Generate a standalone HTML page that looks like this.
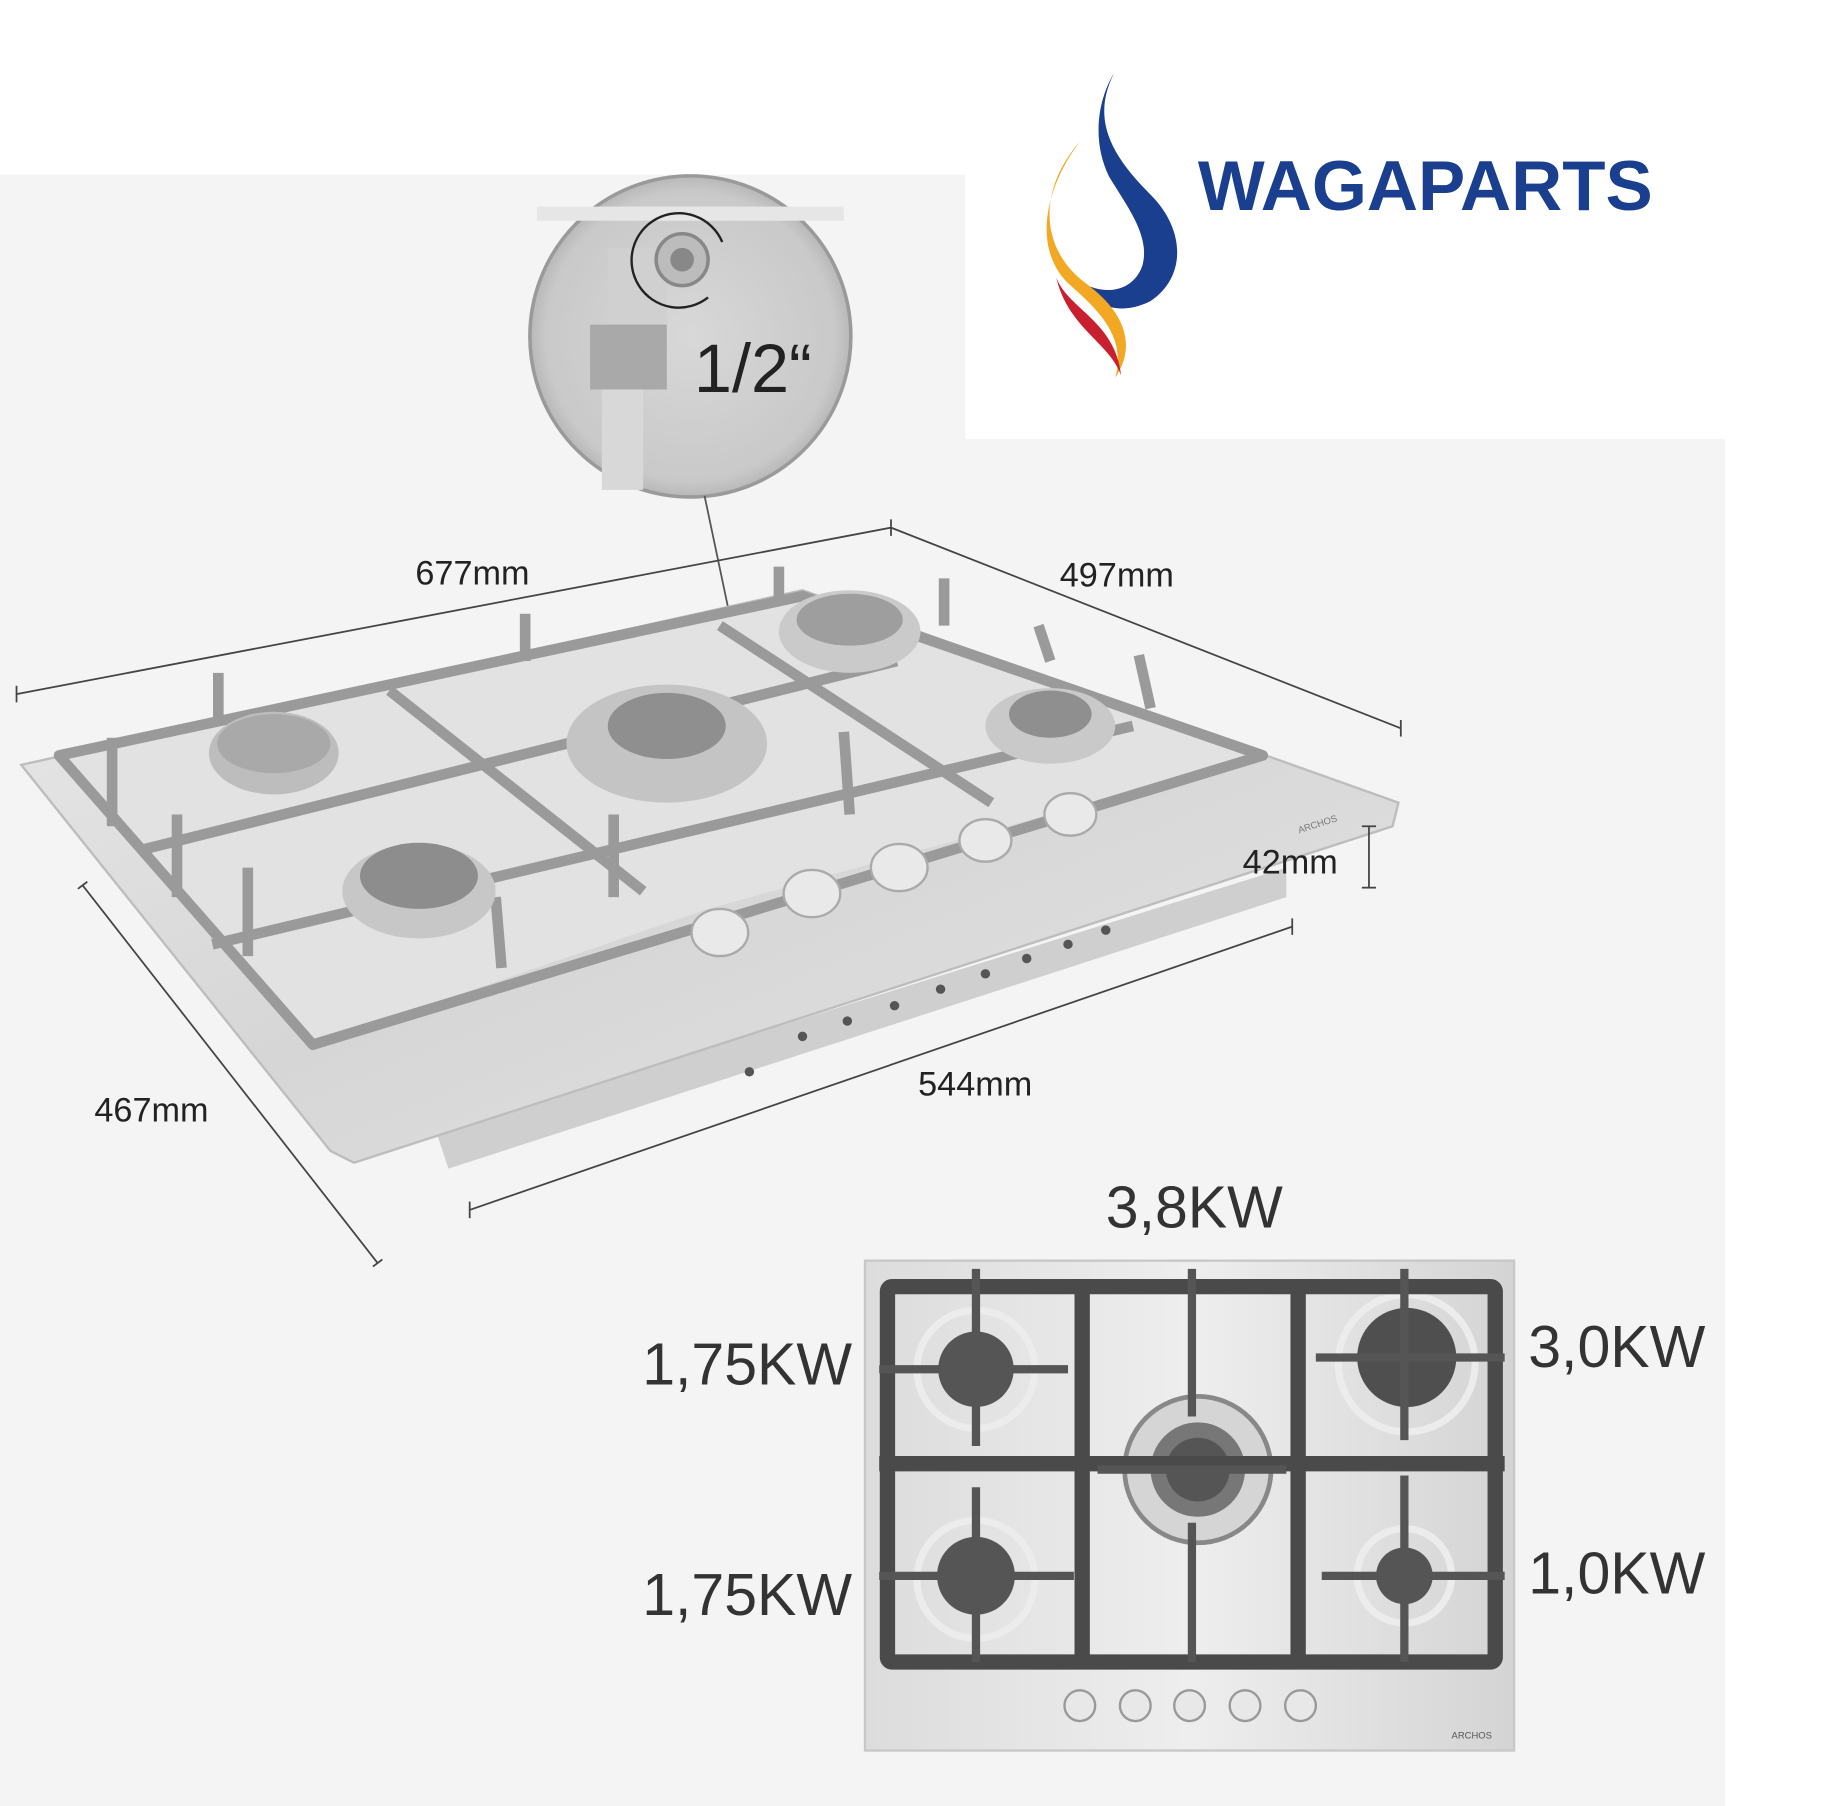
<!DOCTYPE html>
<html><head><meta charset="utf-8"><style>
html,body{margin:0;padding:0;background:#fff;width:1841px;height:1806px;overflow:hidden}
svg{display:block}
text{font-family:"Liberation Sans",sans-serif}
</style></head><body>
<svg width="1841" height="1806" viewBox="0 0 1560 1530" preserveAspectRatio="none" xmlns="http://www.w3.org/2000/svg">
<defs>
<linearGradient id="steel" x1="0" y1="0" x2="1" y2="1">
<stop offset="0" stop-color="#e9e9e9"/><stop offset="0.5" stop-color="#d6d6d6"/><stop offset="1" stop-color="#e4e4e4"/></linearGradient>
<linearGradient id="steel2" x1="0" y1="0" x2="1" y2="0">
<stop offset="0" stop-color="#dcdcdc"/><stop offset="0.5" stop-color="#eeeeee"/><stop offset="1" stop-color="#d4d4d4"/></linearGradient>
<radialGradient id="circ" cx="0.5" cy="0.5" r="0.5">
<stop offset="0" stop-color="#d8d8d8"/><stop offset="0.9" stop-color="#c9c9c9"/><stop offset="1" stop-color="#b8b8b8"/></radialGradient>
</defs>
<rect x="0" y="0" width="1560" height="1530" fill="#fff"/>
<path d="M0 148 H818 V372 H1462 V1530 H0 Z" fill="#f4f4f4"/>

<!-- logo -->
<path d="M944 62 C925 100 940 130 975 165 C1005 195 1005 235 975 255 C950 268 925 260 918 240 C935 250 960 248 968 225 C975 200 955 175 940 150 C925 120 930 85 944 62 Z" fill="#1b3f8f"/>
<path d="M915 120 C880 160 880 210 920 240 C950 262 965 290 945 320 C955 285 930 262 905 240 C875 210 885 160 915 120 Z" fill="#f3a824"/>
<path d="M895 235 C905 262 945 272 950 318 C940 290 905 278 895 235 Z" fill="#c8202e"/>
<text x="1015" y="178" font-size="60" font-weight="bold" fill="#1b3f8f">WAGAPARTS</text>

<!-- inset circle -->
<circle cx="585" cy="285" r="136" fill="url(#circ)" stroke="#9a9a9a" stroke-width="3"/>
<rect x="455" y="175" width="260" height="12" fill="#e6e6e6"/>
<rect x="515" y="210" width="50" height="90" fill="#d0d0d0"/>
<rect x="500" y="275" width="65" height="55" fill="#a9a9a9"/>
<rect x="510" y="330" width="35" height="85" fill="#d8d8d8"/>
<circle cx="578" cy="220" r="22" fill="#bcbcbc" stroke="#888" stroke-width="3"/>
<circle cx="578" cy="220" r="10" fill="#888"/>
<path d="M612 205 A40 40 0 1 0 600 252" fill="none" stroke="#222" stroke-width="2"/>
<line x1="597" y1="420" x2="617" y2="515" stroke="#555" stroke-width="1.5"/>

<!-- 3D hob -->
<path d="M370 960 L1090 735 L1090 760 L380 990 Z" fill="#cfcfcf"/>
<path d="M18 648 L680 500 L1185 680 L1180 700 L300 985 L280 975 Z" fill="url(#steel)" stroke="#bdbdbd" stroke-width="2"/>
<path d="M50 640 L680 505 L1070 640 L600 770 L265 885 Z" fill="#e2e2e2"/>
<g fill="none" stroke="#9a9a9a" stroke-width="9" stroke-linejoin="round">
<path d="M50 640 L680 505 L1070 640 L265 885 Z"/>
<path d="M330 585 L545 755"/><path d="M610 530 L840 680"/>
<path d="M120 720 L760 560"/><path d="M180 800 L960 615"/>
<path d="M185 570 L185 610"/><path d="M445 520 L445 560"/><path d="M660 480 L660 510"/><path d="M800 490 L800 530"/>
<path d="M95 625 L95 700"/><path d="M150 690 L150 760"/><path d="M210 735 L210 810"/>
<path d="M880 530 L890 560"/><path d="M965 555 L975 600"/><path d="M420 760 L425 820"/><path d="M520 690 L520 760"/><path d="M715 620 L720 690"/>
</g>
<g>
<ellipse cx="232" cy="638" rx="55" ry="35" fill="#bdbdbd"/><ellipse cx="232" cy="630" rx="48" ry="25" fill="#a9a9a9"/>
<ellipse cx="355" cy="755" rx="65" ry="40" fill="#c7c7c7"/><ellipse cx="355" cy="742" rx="50" ry="28" fill="#8d8d8d"/>
<ellipse cx="565" cy="630" rx="85" ry="50" fill="#c4c4c4"/><ellipse cx="565" cy="615" rx="50" ry="28" fill="#8f8f8f"/>
<ellipse cx="720" cy="535" rx="60" ry="35" fill="#cacaca"/><ellipse cx="720" cy="525" rx="45" ry="22" fill="#9e9e9e"/>
<ellipse cx="890" cy="615" rx="55" ry="32" fill="#c9c9c9"/><ellipse cx="890" cy="605" rx="35" ry="20" fill="#8f8f8f"/>
</g>
<g fill="#e9e9e9" stroke="#aaa" stroke-width="2">
<ellipse cx="610" cy="790" rx="24" ry="20"/><ellipse cx="688" cy="757" rx="24" ry="20"/><ellipse cx="762" cy="735" rx="24" ry="20"/><ellipse cx="835" cy="712" rx="22" ry="18"/><ellipse cx="907" cy="690" rx="22" ry="18"/>
</g>
<g fill="#555">
<circle cx="635" cy="908" r="4"/><circle cx="680" cy="878" r="4"/><circle cx="718" cy="865" r="4"/><circle cx="758" cy="852" r="4"/><circle cx="797" cy="838" r="4"/><circle cx="835" cy="825" r="4"/><circle cx="870" cy="812" r="4"/><circle cx="905" cy="800" r="4"/><circle cx="937" cy="788" r="4"/>
</g>
<text x="1101" y="706" font-size="8" fill="#777" transform="rotate(-18 1101 706)">ARCHOS</text>

<!-- dimension lines -->
<g stroke="#444" stroke-width="1.5">
<line x1="14" y1="588" x2="755" y2="447"/><line x1="14" y1="581" x2="14" y2="595"/><line x1="755" y1="440" x2="755" y2="454"/>
<line x1="755" y1="447" x2="1187" y2="617"/><line x1="1187" y1="610" x2="1187" y2="624"/>
<line x1="70" y1="750" x2="320" y2="1070"/><line x1="66" y1="753" x2="74" y2="747"/><line x1="316" y1="1073" x2="324" y2="1067"/>
<line x1="398" y1="1025" x2="1095" y2="785"/><line x1="398" y1="1018" x2="398" y2="1032"/><line x1="1095" y1="778" x2="1095" y2="792"/>
<line x1="1160" y1="700" x2="1160" y2="752"/><line x1="1154" y1="700" x2="1166" y2="700"/><line x1="1154" y1="752" x2="1166" y2="752"/>
</g>
<g font-size="29" fill="#222">
<text x="352" y="495">677mm</text><text x="898" y="497">497mm</text>
<text x="1053" y="740">42mm</text><text x="778" y="928">544mm</text><text x="80" y="950">467mm</text>
</g>
<text x="588" y="332" font-size="58" fill="#222">1/2“</text>

<!-- top-view hob -->
<rect x="733" y="1068" width="550" height="415" fill="url(#steel2)" stroke="#c8c8c8" stroke-width="2"/>
<g fill="none" stroke="#ececec" stroke-width="6">
<circle cx="827" cy="1160" r="50"/><circle cx="1192" cy="1155" r="58"/><circle cx="827" cy="1338" r="50"/><circle cx="1190" cy="1335" r="40"/>
</g>
<circle cx="1015" cy="1245" r="62" fill="#d5d5d5" stroke="#888" stroke-width="4"/>
<circle cx="1015" cy="1245" r="40" fill="#777"/>
<circle cx="1015" cy="1245" r="27" fill="#555"/>
<circle cx="827" cy="1160" r="32" fill="#555"/>
<circle cx="1192" cy="1150" r="42" fill="#4f4f4f"/>
<circle cx="827" cy="1335" r="33" fill="#555"/>
<circle cx="1190" cy="1335" r="24" fill="#555"/>
<g fill="none" stroke="#4a4a4a" stroke-width="13" stroke-linejoin="round">
<rect x="752" y="1090" width="515" height="318" rx="4"/>
<line x1="917" y1="1090" x2="917" y2="1408"/><line x1="1100" y1="1090" x2="1100" y2="1408"/>
<line x1="745" y1="1240" x2="1275" y2="1240"/>
</g>
<g fill="none" stroke="#555" stroke-width="7">
<line x1="827" y1="1075" x2="827" y2="1225"/><line x1="745" y1="1160" x2="905" y2="1160"/>
<line x1="1010" y1="1075" x2="1010" y2="1200"/><line x1="1190" y1="1075" x2="1190" y2="1220"/><line x1="1115" y1="1150" x2="1275" y2="1150"/>
<line x1="827" y1="1260" x2="827" y2="1408"/><line x1="745" y1="1335" x2="910" y2="1335"/>
<line x1="1010" y1="1290" x2="1010" y2="1408"/><line x1="1190" y1="1250" x2="1190" y2="1408"/><line x1="1120" y1="1335" x2="1275" y2="1335"/>
<line x1="930" y1="1245" x2="1090" y2="1245"/>
</g>
<g fill="#e8e8e8" stroke="#999" stroke-width="2">
<circle cx="915" cy="1445" r="13"/><circle cx="962" cy="1445" r="13"/><circle cx="1008" cy="1445" r="13"/><circle cx="1055" cy="1445" r="13"/><circle cx="1102" cy="1445" r="13"/>
</g>
<text x="1230" y="1473" font-size="8" fill="#555">ARCHOS</text>

<g font-size="50" fill="#333">
<text x="1012" y="1040" text-anchor="middle">3,8KW</text>
<text x="722" y="1173" text-anchor="end">1,75KW</text>
<text x="722" y="1368" text-anchor="end">1,75KW</text>
<text x="1295" y="1158">3,0KW</text>
<text x="1295" y="1350">1,0KW</text>
</g>
</svg>
</body></html>
